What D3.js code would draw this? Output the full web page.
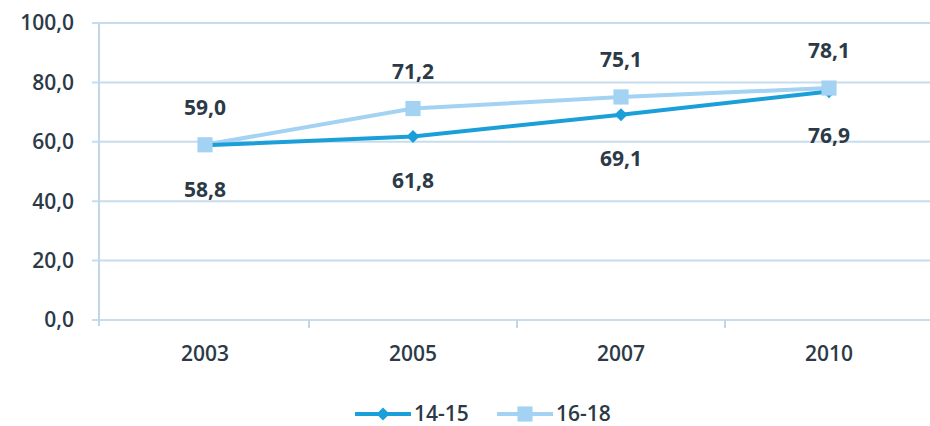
<!DOCTYPE html>
<html><head><meta charset="utf-8">
<script src="https://cdn.jsdelivr.net/npm/d3@7"></script>
<style>
html,body{margin:0;padding:0;background:#fff;}
text{font-family:"Open Sans",sans-serif;}
</style></head>
<body><svg id="c" width="930" height="426"></svg>
<script>
const categories = ["2003","2005","2007","2010"];
const series1415 = [58.8, 61.8, 69.1, 76.9];
const series1618 = [59.0, 71.2, 75.1, 78.1];
const seriesNames = ["14-15","16-18"];
const yTicks = [0,20,40,60,80,100];

const svg = d3.select("#c");
const x = d3.scaleBand().domain(categories).range([101, 933]);
const y = d3.scaleLinear().domain([0,100]).range([320, 23]);
const fmt = v => d3.format(".1f")(v).replace(".", ",");
const textCol = "#2c3a47";
const fs = 21;

// grid
svg.append("g").selectAll("line").data(yTicks).join("line")
  .attr("x1", 92).attr("x2", 930)
  .attr("y1", d => y(d)).attr("y2", d => y(d))
  .attr("stroke", "#c7dced").attr("stroke-width", 2);
// y axis line
svg.append("line").attr("x1", 99).attr("x2", 99).attr("y1", y(100)).attr("y2", y(0) + 6)
  .attr("stroke", "#c2d6e6").attr("stroke-width", 2);
// category ticks
svg.append("g").selectAll("line").data(categories.slice(1)).join("line")
  .attr("x1", d => x(d)).attr("x2", d => x(d))
  .attr("y1", y(0)).attr("y2", y(0) + 8)
  .attr("stroke", "#c2d6e6").attr("stroke-width", 2);

// y labels
svg.append("g").selectAll("text").data(yTicks).join("text")
  .attr("x", 74).attr("y", d => y(d)).attr("dy", "0.35em")
  .attr("text-anchor", "end").attr("fill", textCol)
  .attr("font-size", fs).attr("font-weight", 600)
  .text(d => fmt(d));
// x labels
svg.append("g").selectAll("text").data(categories).join("text")
  .attr("x", d => x(d) + x.bandwidth()/2).attr("y", 354).attr("dy", "0.35em")
  .attr("text-anchor", "middle").attr("fill", textCol)
  .attr("font-size", fs).attr("font-weight", 600)
  .text(d => d);

const cx = (d,i) => x(categories[i]) + x.bandwidth()/2;
const line = d3.line().x((d,i) => cx(d,i)).y(d => y(d));
const c1 = "#1b9fd9", c2 = "#a3d2f2";

svg.append("path").datum(series1618).attr("d", line)
  .attr("fill", "none").attr("stroke", c2).attr("stroke-width", 4);
svg.append("path").datum(series1415).attr("d", line)
  .attr("fill", "none").attr("stroke", c1).attr("stroke-width", 4);

const diamond = d3.symbol().type(d3.symbolDiamond2).size(110);
const square = d3.symbol().type(d3.symbolSquare).size(230);
svg.append("g").selectAll("path").data(series1415).join("path")
  .attr("d", diamond).attr("fill", c1)
  .attr("transform", (d,i) => `translate(${cx(d,i)},${y(d)})`);
svg.append("g").selectAll("path").data(series1618).join("path")
  .attr("d", square).attr("fill", c2)
  .attr("transform", (d,i) => `translate(${cx(d,i)},${y(d)})`);

// data labels
svg.append("g").selectAll("text").data(series1618).join("text")
  .attr("x", (d,i) => cx(d,i)).attr("y", d => y(d) - 37).attr("dy", "0.35em")
  .attr("text-anchor", "middle").attr("fill", textCol)
  .attr("font-size", fs).attr("font-weight", 700)
  .text(d => fmt(d));
svg.append("g").selectAll("text").data(series1415).join("text")
  .attr("x", (d,i) => cx(d,i)).attr("y", d => y(d) + 44).attr("dy", "0.35em")
  .attr("text-anchor", "middle").attr("fill", textCol)
  .attr("font-size", fs).attr("font-weight", 700)
  .text(d => fmt(d));

// legend
const leg = [{name: seriesNames[0], color: c1, sym: diamond, x: 355},
             {name: seriesNames[1], color: c2, sym: square, x: 497}];
const lg = svg.append("g").selectAll("g").data(leg).join("g")
  .attr("transform", d => `translate(${d.x},414)`);
lg.append("line").attr("x1", 0).attr("x2", 56).attr("stroke", d => d.color).attr("stroke-width", 4);
lg.append("path").attr("d", d => d.sym()).attr("fill", d => d.color).attr("transform", "translate(28,0)");
lg.append("text").attr("x", 59).attr("dy", "0.35em").attr("fill", textCol)
  .attr("font-size", fs).attr("font-weight", 600).text(d => d.name);
</script></body></html>
